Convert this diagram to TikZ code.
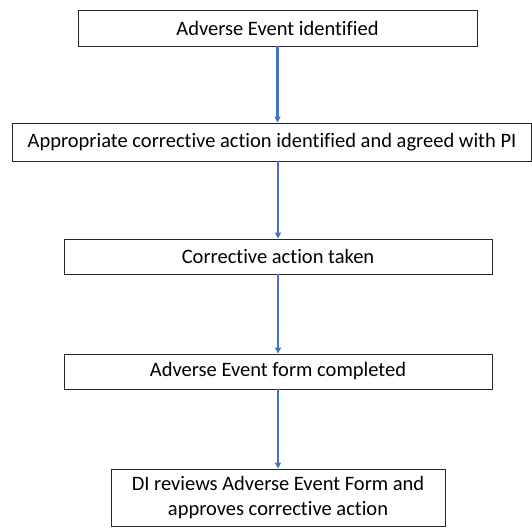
\documentclass[tikz,border=0pt]{standalone}
\usepackage{fontspec}
\setmainfont[Ligatures=NoCommon]{Carlito}
\usetikzlibrary{arrows.meta,positioning}
\definecolor{flowblue}{RGB}{68,114,196}

\begin{document}
\begin{tikzpicture}[x=1pt, y=-1pt,
	stepbox/.style = {draw=black!85, line width=.9pt, inner sep=0pt, align=center,
		font=\fontsize{20.5}{25}\selectfont},
	flow/.style = {draw=flowblue, line width=2.2pt, -{Triangle[length=6pt, width=6pt]}}]
	\useasboundingbox (0,0) rectangle (532,527);
	\node[stepbox, minimum width=399pt, minimum height=36pt] (found) at (277.5,28) {Adverse Event identified};
	\node[stepbox, minimum width=519pt, minimum height=38pt] (agree) at (272,142) {Appropriate corrective action identified and agreed with PI};
	\node[stepbox, minimum width=428pt, minimum height=35pt] (taken) at (278,256.5) {Corrective action taken};
	\node[stepbox, minimum width=428pt, minimum height=35pt] (form) at (278,371.5) {Adverse Event form completed};
	\node[stepbox, minimum width=334pt, minimum height=57pt] (review) at (278,497.5) {DI reviews Adverse Event Form and\\ approves corrective action};
	% arrows
	\draw[flow] (found.south) -- (found.south |- agree.north);
	\draw[flow] (taken.north |- agree.south) -- (taken.north);
	\draw[flow] (taken.south) -- (form.north);
	\draw[flow] (form.south) -- (review.north);
\end{tikzpicture}
\end{document}
